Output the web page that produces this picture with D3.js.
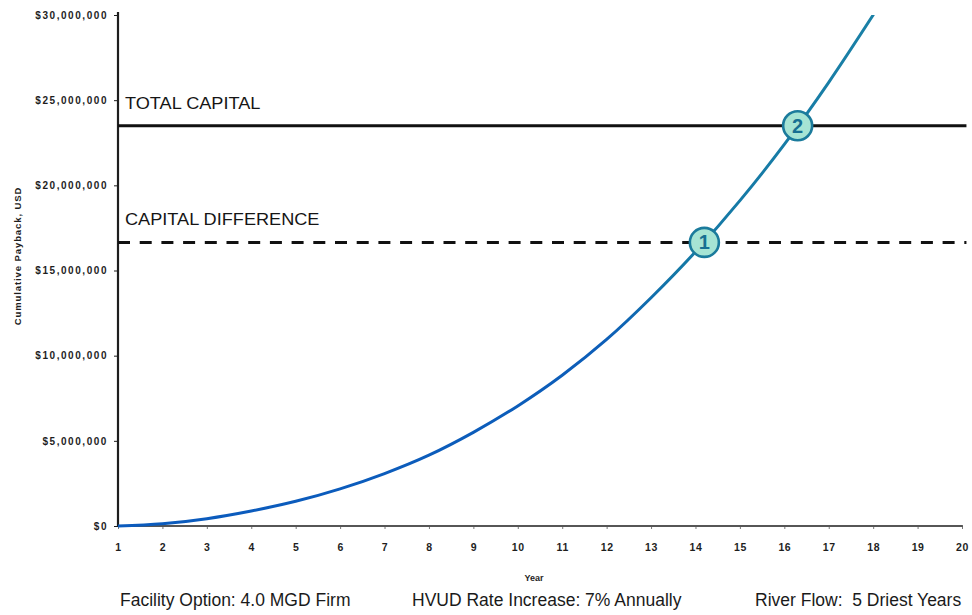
<!DOCTYPE html>
<html>
<head>
<meta charset="utf-8">
<script src="https://cdn.jsdelivr.net/npm/d3@7"></script>
<style>
  html, body { margin: 0; padding: 0; background: #fff; }
  svg { display: block; }
  text.pre { white-space: pre; }
</style>
</head>
<body>
<svg id="chart" width="972" height="615"></svg>
<script>
// Cumulative payback by year (USD)
const years = [1, 2, 3, 4, 5, 6, 7, 8, 9, 10, 11, 12, 13, 14, 15, 16, 17, 18];
const payback = [0, 130000, 430000, 880000, 1450000, 2180000, 3080000, 4160000, 5500000,
  7050000, 8850000, 10950000, 13400000, 16100000, 19100000, 22400000, 26050000, 30000000];

// Reference capital levels
const capitalNames = ["TOTAL CAPITAL", "CAPITAL DIFFERENCE"];
const capitalValues = [23500000, 16650000];

// Crossing points of the payback curve with the capital levels
const crossingLabels = ["1", "2"];
const crossingYears = [14.2, 16.3];
const crossingValues = [16650000, 23500000];

const xTicks = d3.range(1, 21);
const yTicks = [0, 5000000, 10000000, 15000000, 20000000, 25000000, 30000000];

const footnotes = ["Facility Option: 4.0 MGD Firm", "HVUD Rate Increase: 7% Annually", "River Flow:  5 Driest Years"];

const svg = d3.select("#chart");
const ink = "#1e1e1e";

const x = d3.scaleLinear().domain([1, 20]).range([118, 962]);
const y = d3.scaleLinear().domain([0, 30000000]).range([526, 15]);

// gradient for the payback curve: blue low, teal high
const defs = svg.append("defs");
const grad = defs.append("linearGradient")
  .attr("id", "curveGrad")
  .attr("gradientUnits", "userSpaceOnUse")
  .attr("x1", 0).attr("x2", 0)
  .attr("y1", y(0)).attr("y2", y(30000000));
grad.append("stop").attr("offset", 0).attr("stop-color", "#0b5bbd");
grad.append("stop").attr("offset", 0.36).attr("stop-color", "#0d5eb8");
grad.append("stop").attr("offset", 0.5).attr("stop-color", "#1478a6");
grad.append("stop").attr("offset", 1).attr("stop-color", "#1a80a6");

defs.append("clipPath").attr("id", "plotClip")
  .append("rect").attr("x", x(1)).attr("y", y(30000000))
  .attr("width", x(20.2) - x(1)).attr("height", y(0) - y(30000000) + 4);

// Y axis
const yAxis = svg.append("g")
  .attr("transform", `translate(${x(1)},0)`)
  .call(d3.axisLeft(y).tickValues(yTicks).tickFormat(d3.format("$,")).tickSize(4).tickPadding(6));
yAxis.select(".domain").attr("stroke", ink).attr("stroke-width", 2.2)
  .attr("d", `M0,${y(30000000) - 3}V${y(0)}`);
yAxis.selectAll(".tick line").attr("stroke", ink).attr("stroke-width", 1);
yAxis.selectAll(".tick text")
  .attr("font-family", "Liberation Sans, Arial, sans-serif")
  .attr("font-weight", "bold")
  .attr("font-size", 10)
  .attr("letter-spacing", 1.55)
  .attr("fill", ink);

// X axis
const xAxis = svg.append("g")
  .attr("transform", `translate(0,${y(0)})`)
  .call(d3.axisBottom(x).tickValues(xTicks).tickFormat(d3.format("d")).tickSize(3).tickPadding(15));
xAxis.select(".domain").attr("stroke", ink).attr("stroke-width", 1.6)
  .attr("d", `M${x(1)},0H${x(20.02)}`);
xAxis.selectAll(".tick line").attr("stroke", "#555").attr("stroke-width", 0.8);
xAxis.selectAll(".tick text")
  .attr("font-family", "Liberation Sans, Arial, sans-serif")
  .attr("font-weight", "bold")
  .attr("font-size", 10.5)
  .attr("letter-spacing", 0.6)
  .attr("fill", ink);

// Axis titles
svg.append("text")
  .attr("x", 534).attr("y", 581)
  .attr("text-anchor", "middle")
  .attr("font-family", "Liberation Sans, Arial, sans-serif")
  .attr("font-weight", "bold").attr("font-size", 9)
  .attr("fill", ink)
  .text("Year");

svg.append("text")
  .attr("transform", "translate(21,256) rotate(-90)")
  .attr("text-anchor", "middle")
  .attr("font-family", "Liberation Sans, Arial, sans-serif")
  .attr("font-weight", "bold").attr("font-size", 9.5)
  .attr("letter-spacing", 0.9)
  .attr("fill", ink)
  .text("Cumulative Payback, USD");

// Capital levels
const plot = svg.append("g").attr("clip-path", "url(#plotClip)");
capitalValues.forEach((v, i) => {
  plot.append("line")
    .attr("x1", x(1)).attr("x2", x(20.1))
    .attr("y1", y(v)).attr("y2", y(v))
    .attr("stroke", "#111")
    .attr("stroke-width", 3)
    .attr("stroke-dasharray", i === 1 ? "12,9.7" : null);
  svg.append("text")
    .attr("transform", `translate(${x(1) + 7},${y(v) - 17}) scale(1.1,1)`)
    .attr("font-family", "Liberation Sans, Arial, sans-serif")
    .attr("font-size", 16.5)
    .attr("fill", "#151515")
    .text(capitalNames[i]);
});

// Payback curve
const line = d3.line()
  .x((d, i) => x(years[i]))
  .y(d => y(d))
  .curve(d3.curveMonotoneX);
plot.append("path")
  .datum(payback)
  .attr("d", line)
  .attr("fill", "none")
  .attr("stroke", "url(#curveGrad)")
  .attr("stroke-width", 3)
  .attr("stroke-linecap", "round");

// Crossing markers
crossingYears.forEach((yr, i) => {
  const g = svg.append("g")
    .attr("transform", `translate(${x(yr)},${y(crossingValues[i])})`);
  g.append("circle")
    .attr("r", 14.5)
    .attr("fill", "#a6e4d4")
    .attr("stroke", "#1b7b9c")
    .attr("stroke-width", 2.6);
  g.append("text")
    .attr("y", 7)
    .attr("text-anchor", "middle")
    .attr("font-family", "Liberation Sans, Arial, sans-serif")
    .attr("font-weight", "bold")
    .attr("font-size", 20)
    .attr("fill", "#176f92")
    .text(crossingLabels[i]);
});

// Footnotes
const footX = [120, 412, 755];
footnotes.forEach((t, i) => {
  svg.append("text")
    .attr("class", "pre")
    .attr("x", footX[i]).attr("y", 606)
    .attr("font-family", "Liberation Sans, Arial, sans-serif")
    .attr("font-size", 17.5)
    .attr("fill", "#1a1a1a")
    .text(t);
});
</script>
</body>
</html>
